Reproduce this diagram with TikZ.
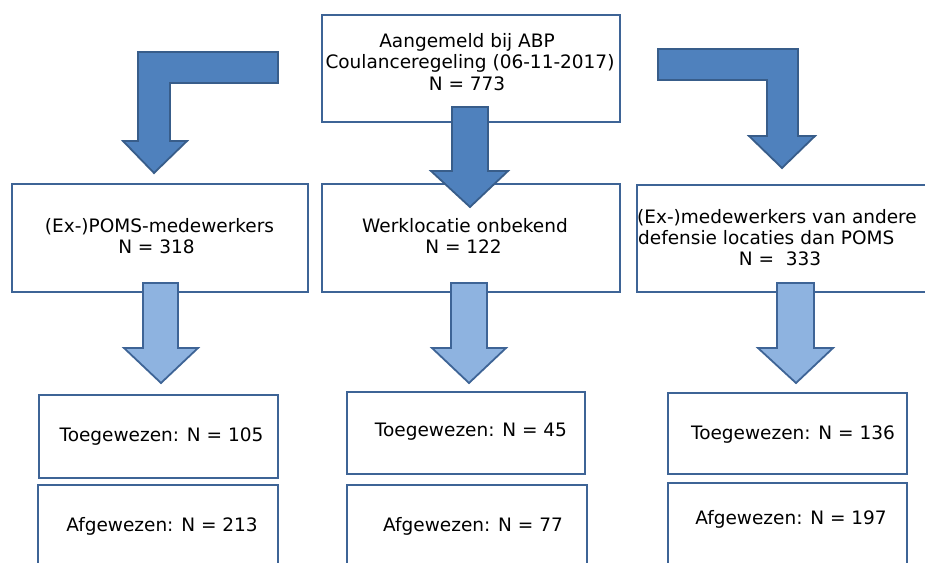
\documentclass[tikz,border=0pt]{standalone}
\usepackage{fontspec}
\setmainfont{DejaVu Sans}
\definecolor{darkfill}{RGB}{79,129,189}
\definecolor{darkline}{RGB}{56,93,138}
\definecolor{lightfill}{RGB}{142,179,224}
\definecolor{lightline}{RGB}{62,100,150}
\definecolor{boxline}{RGB}{62,100,150}
\tikzset{
  boxshape/.style={draw=boxline, line width=2.2pt, fill=white},
  darkarrow/.style={fill=darkfill, draw=darkline, line width=1.8pt, line join=miter},
  lightarrow/.style={fill=lightfill, draw=lightline, line width=1.8pt, line join=miter},
  txt/.style={inner sep=0pt, anchor=base, text=black, font=\fontsize{18.5}{22}\selectfont},
  txtl/.style={txt, anchor=base west}
}
\begin{document}
\begin{tikzpicture}[x=1pt,y=-1pt]
\useasboundingbox (0,0) rectangle (925,562);
\clip (0,0) rectangle (925,562);
\fill[white] (0,0) rectangle (925,562);
% boxes
\draw[boxshape] (322,15) rectangle (620,122);
\draw[boxshape] (12,184) rectangle (308,292);
\draw[boxshape] (322,184) rectangle (620,292);
\draw[boxshape] (637,185) rectangle (940,292);
\draw[boxshape] (39,395) rectangle (278,478);
\draw[boxshape] (38,485) rectangle (278,580);
\draw[boxshape] (347,392) rectangle (585,474);
\draw[boxshape] (347,485) rectangle (587,580);
\draw[boxshape] (668,393) rectangle (907,474);
\draw[boxshape] (668,483) rectangle (907,580);
% dark arrows
\draw[darkarrow] (278,52) -- (138,52) -- (138,141) -- (123,141) -- (154,173) -- (187,141) -- (170,141) -- (170,83) -- (278,83) -- cycle;
\draw[darkarrow] (452,107) -- (488,107) -- (488,171) -- (508,171) -- (470,207) -- (431,171) -- (452,171) -- cycle;
\draw[darkarrow] (658,49) -- (798,49) -- (798,136) -- (815,136) -- (782,168) -- (749,136) -- (767,136) -- (767,80) -- (658,80) -- cycle;
% light arrows
\draw[lightarrow] (143,283) -- (178,283) -- (178,348) -- (198,348) -- (161,383) -- (124,348) -- (143,348) -- cycle;
\draw[lightarrow] (451,283) -- (487,283) -- (487,348) -- (506,348) -- (469,383) -- (432,348) -- (451,348) -- cycle;
\draw[lightarrow] (777,283) -- (814,283) -- (814,348) -- (833,348) -- (796,383) -- (758,348) -- (777,348) -- cycle;
% texts
\node[txt] (t1a) at (467,47) {Aangemeld bij ABP};
\node[txt] (t1b) at (470,68.5) {Coulanceregeling (06-11-2017)};
\node[txt] (t1c) at (467,90.5) {N = 773};
\node[txt] (l2a) at (159.5,232) {(Ex-)POMS-medewerkers};
\node[txt] (l2b) at (156.5,253) {N = 318};
\node[txt] (m2a) at (465,232) {Werklocatie onbekend};
\node[txt] (m2b) at (463.5,253) {N = 122};
\node[txtl] (r2a) at (637,223) {(Ex-)medewerkers van andere};
\node[txtl] (r2b) at (638,244) {defensie locaties dan POMS};
\node[txt] (r2c) at (780,265) {N =\ \ 333};
\node[txt] (l3a) at (161.5,441.5) {Toegewezen: N = 105};
\node[txt] (l3b) at (162,531.5) {Afgewezen: N = 213};
\node[txt] (m3a) at (471,436) {Toegewezen: N = 45};
\node[txt] (m3b) at (473,531.5) {Afgewezen: N = 77};
\node[txt] (r3a) at (793,439) {Toegewezen: N = 136};
\node[txt] (r3b) at (791,524) {Afgewezen: N = 197};
\end{tikzpicture}
\end{document}
